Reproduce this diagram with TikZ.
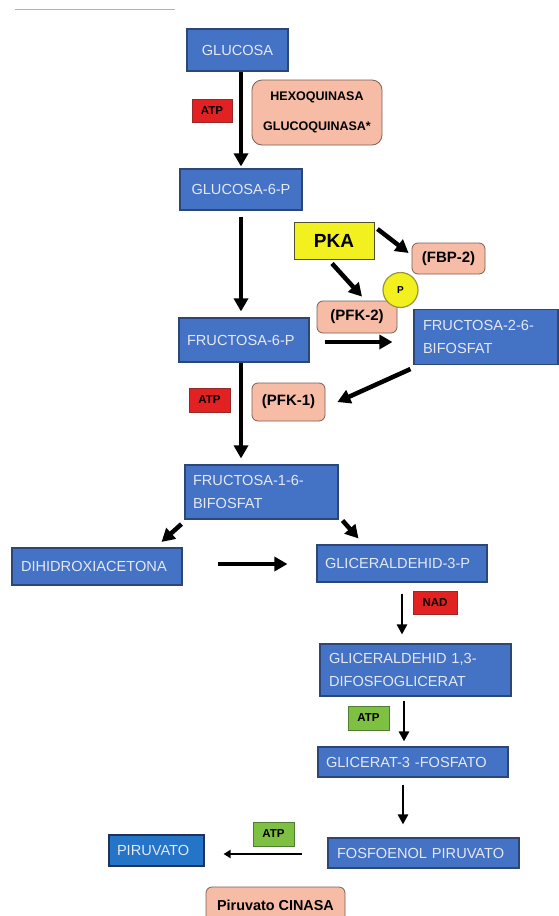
\documentclass[tikz,border=0pt]{standalone}
\usepackage{fontspec}
\setmainfont{Liberation Sans}
\usetikzlibrary{arrows.meta,calc}
\definecolor{blueF}{RGB}{68,114,196}
\definecolor{blueD}{RGB}{45,70,120}
\definecolor{pirF}{RGB}{36,116,200}
\definecolor{pirD}{RGB}{30,50,90}
\definecolor{txtW}{RGB}{228,232,242}
\definecolor{pinkF}{RGB}{246,188,165}
\definecolor{pinkD}{RGB}{125,95,85}
\definecolor{redF}{RGB}{226,34,34}
\definecolor{redD}{RGB}{150,40,40}
\definecolor{greenF}{RGB}{126,192,66}
\definecolor{greenD}{RGB}{80,125,50}
\definecolor{yelF}{RGB}{242,240,30}
\definecolor{yelD}{RGB}{80,80,40}
\definecolor{circD}{RGB}{150,150,60}
\begin{document}
\begin{tikzpicture}[x=1pt,y=-1pt,
  bbox/.style={draw=blueD, fill=blueF, line width=1.1pt, text=txtW,
    font=\fontsize{14.6pt}{23pt}\selectfont, inner ysep=0pt, align=left},
  pbox/.style={draw=pinkD, fill=pinkF, line width=0.8pt, rounded corners=6pt,
    text=black, font=\bfseries\fontsize{15pt}{18pt}\selectfont, inner sep=0pt, align=center},
  tag/.style={line width=0.7pt, inner sep=0pt, text=black,
    font=\bfseries\fontsize{11.5pt}{12pt}\selectfont},
  redtag/.style={tag, draw=redD, fill=redF},
  greentag/.style={tag, draw=greenD, fill=greenF},
  arrthick/.style={line width=4.5pt, -{Triangle[length=13pt,width=14pt]}},
  arrthin/.style={line width=2.6pt, -{Triangle[length=10pt,width=10pt]}},
  arrfine/.style={line width=1.8pt, -{Triangle[length=7pt,width=8pt]}}
]
\useasboundingbox (0,0) rectangle (559,916);
\fill[white] (0,0) rectangle (559,916);
\draw[gray!60, line width=0.8pt] (15,9.5) -- (175,9.5);

% blue boxes
\node[bbox, minimum height=42pt, text width=85pt, inner xsep=8pt, align=center] (glc) at (237.5,50) {GLUCOSA};
\node[bbox, minimum height=41pt, text width=106pt, inner xsep=8pt, align=center] (g6p) at (241,189.5) {GLUCOSA-6-P};
\node[bbox, minimum height=44pt, text width=114pt, inner xsep=8pt] (f6p) at (244,340) {FRUCTOSA-6-P};
\node[bbox, minimum height=54pt, text width=137pt, inner xsep=8pt] (f16) at (261.5,492) {FRUCTOSA-1-6-\\BIFOSFAT};
\node[bbox, minimum height=55pt, text width=126pt, inner xsep=9pt] (f26) at (486,337) {FRUCTOSA-2-6-\\BIFOSFAT};
\node[bbox, minimum height=37pt, text width=152pt, inner xsep=9pt] (dha) at (97,566.5) {DIHIDROXIACETONA};
\node[bbox, minimum height=37pt, text width=154pt, inner xsep=8pt] (g3p) at (402,563.5) {GLICERALDEHID-3-P};
\node[bbox, minimum height=52pt, text width=173pt, inner xsep=9pt] (bpg) at (415.5,670) {GLICERALDEHID 1,3-\\DIFOSFOGLICERAT};
\node[bbox, minimum height=30pt, text width=174pt, inner xsep=8pt] (g3f) at (413,762) {GLICERAT-3 -FOSFATO};
\node[bbox, minimum height=30pt, text width=173pt, inner xsep=9pt] (pep) at (423.5,853) {FOSFOENOL PIRUVATO};
\node[bbox, draw=pirD, fill=pirF, minimum height=31pt, text width=79pt, inner xsep=8pt] (pir) at (156.5,850.5) {PIRUVATO};

% pink enzyme boxes
\node[pbox, rounded corners=10pt, minimum width=130pt, minimum height=65pt,
  font=\bfseries\fontsize{12.5pt}{30pt}\selectfont] (hex) at (317,112.5) {HEXOQUINASA\\GLUCOQUINASA*};
\node[pbox, minimum width=73pt, minimum height=31pt] (fbp) at (448.5,258.5) {(FBP-2)};
\node[pbox, minimum width=80pt, minimum height=32pt] (pfk2) at (357,317) {(PFK-2)};
\node[pbox, minimum width=73pt, minimum height=38pt] (pfk1) at (288.5,402) {(PFK-1)};
\node[pbox, minimum width=139pt, minimum height=36pt,
  font=\bfseries\fontsize{14.4pt}{17pt}\selectfont] (pk) at (275.5,905) {Piruvato CINASA};

% PKA and phosphate
\node[draw=yelD, fill=yelF, line width=1pt, minimum width=80pt, minimum height=37pt, inner sep=0pt,
  font=\bfseries\fontsize{19pt}{22pt}\selectfont] (pka) at (334,240.5) {PKA};
\node[circle, draw=circD, fill=yelF, line width=1.2pt, minimum size=35pt, inner sep=0pt,
  font=\bfseries\fontsize{10pt}{12pt}\selectfont] (p) at (400.5,290) {P};

% small tags
\node[redtag, minimum width=40pt, minimum height=23pt] (atp1) at (212,110.5) {ATP};
\node[redtag, minimum width=41pt, minimum height=24pt] (atp2) at (209.5,400) {ATP};
\node[redtag, minimum width=44pt, minimum height=23pt] (nad) at (435,602.5) {NAD};
\node[greentag, minimum width=41pt, minimum height=24pt] (atp3) at (368.5,718) {ATP};
\node[greentag, minimum width=41pt, minimum height=24pt] (atp4) at (273.5,834) {ATP};

% connectors
\draw[arrthick, line width=4pt] ($(glc.south)+(3.5,0)$) -- ($(g6p.north)+(0,-2)$);
\draw[arrthick, line width=4pt] ($(g6p.south)+(0,6)$) -- ($(f6p.north)+(-3,-6)$);
\draw[arrthick, line width=4pt] ($(f6p.south)+(-3,0)$) -- ($(f16.north)+(-20.5,-6)$);
\draw[arrthick] ($(pka.east)+(3,-11.5)$) -- ($(fbp.west)+(-3,-5.5)$);
\draw[arrthick] ($(pka.south)+(-2,4)$) -- ($(pfk2.north)+(5,-4)$);
\draw[arrthick] ($(f6p.east)+(15,2)$) -- ($(f26.west)+(-21,5)$);
\draw[arrthick] ($(f26.south west)+(-3,4)$) -- ($(pfk1.east)+(12,0)$);
\draw[arrthick] ($(f16.south west)+(-3,4.5)$) -- ($(dha.north east)+(-21,-5.5)$);
\draw[arrthick] ($(f16.south east)+(4,1)$) -- ($(g3p.north west)+(42,-6)$);
\draw[arrthick] ($(dha.east)+(35,-2.5)$) -- ($(g3p.west)+(-29,0.5)$);
\draw[arrthin] ($(g3p.south)+(0,11)$) -- ($(bpg.north)+(-13.5,-9)$);
\draw[arrthin] ($(bpg.south)+(-11.5,4)$) -- ($(g3f.north)+(-9,-5)$);
\draw[arrthin] ($(g3f.south)+(-10,7)$) -- ($(pep.north)+(-20.5,-13)$);
\draw[arrfine] ($(pep.west)+(-25,1)$) -- ($(pir.east)+(19,3.5)$);
\end{tikzpicture}
\end{document}
